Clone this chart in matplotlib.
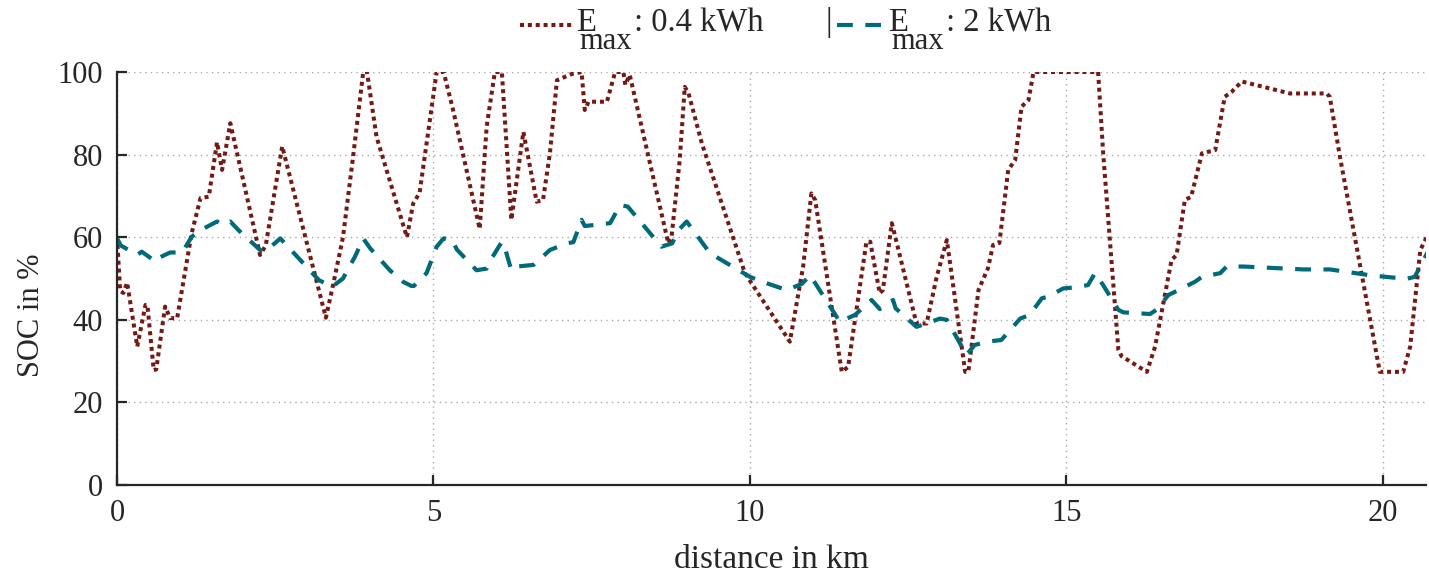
import matplotlib
matplotlib.use("Agg")
import matplotlib.pyplot as plt
from matplotlib.lines import Line2D

plt.rcParams["font.family"] = ["Liberation Serif", "DejaVu Serif"]

# State of charge along the route, small storage (0.4 kWh)
dist_small = [0.00, 0.05, 0.10, 0.16, 0.32, 0.45, 0.48, 0.58, 0.62, 0.76, 0.84, 0.95,
              1.18, 1.32, 1.45, 1.58, 1.66, 1.79, 2.26, 2.35, 2.61, 3.30, 3.42, 3.57,
              3.73, 3.89, 3.95, 4.10, 4.58, 4.68, 4.78, 5.05, 5.16, 5.31, 5.73, 5.84,
              5.97, 6.08, 6.23, 6.42, 6.63, 6.73, 6.84, 6.95, 7.18, 7.34, 7.39, 7.45,
              7.74, 7.87, 8.00, 8.03, 8.10, 8.15, 8.71, 8.76, 8.89, 8.97, 9.03, 9.24,
              9.92, 10.63, 10.84, 10.97, 11.03, 11.45, 11.55, 11.84, 11.90, 12.05, 12.10,
              12.24, 12.26, 12.63, 12.79, 12.95, 13.11, 13.40, 13.45, 13.61, 13.76, 13.84,
              13.94, 14.08, 14.19, 14.29, 14.40, 14.48, 15.50, 15.58, 15.82, 15.87, 16.27,
              16.40, 16.66, 16.74, 16.87, 16.97, 17.14, 17.35, 17.50, 17.61, 17.77, 18.53,
              19.11, 19.16, 19.32, 19.95, 20.32, 20.43, 20.59, 20.69]
soc_small = [60.0, 47.0, 46.5, 49.0, 33.5, 43.6, 43.6, 27.8, 28.0, 43.2, 40.4, 40.4,
             61.0, 69.5, 69.8, 83.0, 76.3, 87.6, 55.7, 58.0, 82.0, 40.5, 48.9, 60.0,
             79.5, 100.0, 100.0, 84.3, 60.0, 68.2, 70.7, 100.0, 100.0, 90.8, 62.0, 86.8,
             100.0, 100.0, 64.2, 85.5, 68.6, 69.0, 80.4, 98.0, 99.5, 100.0, 90.8, 92.8,
             92.8, 100.0, 100.0, 96.9, 99.3, 96.0, 58.5, 60.0, 78.7, 96.4, 94.8, 82.7,
             51.3, 34.7, 52.9, 70.6, 69.0, 27.4, 28.6, 58.9, 58.9, 46.4, 47.2,
             63.4, 62.3, 39.1, 39.1, 50.4, 59.3, 27.4, 27.4, 47.2, 52.5, 58.1,
             58.6, 76.3, 78.7, 91.6, 93.2, 100.0, 100.0, 80.3, 32.7, 31.2, 27.4,
             33.5, 54.5, 55.7, 69.0, 69.8, 80.3, 81.1, 94.0, 95.2, 97.7, 94.8,
             94.8, 94.0, 79.5, 27.4, 27.4, 33.5, 56.9, 60.0]

# State of charge along the route, large storage (2 kWh)
dist_large = [0.00, 0.06, 0.32, 0.39, 0.61, 0.66, 0.84, 1.03, 1.18, 1.32, 1.58, 1.66,
              1.79, 1.92, 2.26, 2.34, 2.58, 3.19, 3.40, 3.57, 3.76, 3.89, 4.00, 4.31,
              4.52, 4.65, 4.69, 4.89, 5.05, 5.16, 5.29, 5.37, 5.68, 5.84, 5.92, 6.08,
              6.13, 6.23, 6.32, 6.58, 6.84, 7.10, 7.21, 7.34, 7.39, 7.79, 7.95, 8.07,
              8.60, 8.77, 8.87, 9.00, 9.37, 10.00, 10.16, 10.58, 10.82, 10.95, 11.42,
              11.66, 11.92, 12.05, 12.26, 12.30, 12.63, 12.79, 13.00, 13.11, 13.42, 13.55,
              13.74, 13.97, 14.27, 14.42, 14.61, 14.71, 14.95, 15.10, 15.34, 15.45, 15.58,
              15.69, 15.82, 15.90, 16.32, 16.42, 16.61, 16.77, 17.03, 17.14, 17.43, 17.53,
              17.79, 18.74, 19.16, 19.79, 20.37, 20.50, 20.59, 20.71]
soc_large = [59.7, 58.0, 55.7, 56.5, 54.1, 55.0, 56.3, 56.3, 60.1, 61.7, 63.8, 63.0,
             63.8, 61.7, 56.9, 56.5, 59.7, 49.6, 48.0, 50.0, 55.3, 59.7, 57.3, 52.0,
             49.2, 48.2, 48.2, 51.3, 57.7, 59.7, 59.4, 57.0, 52.0, 52.4, 54.9, 58.9,
             57.3, 52.0, 52.9, 53.3, 56.9, 58.5, 58.8, 64.2, 62.7, 63.4, 67.8, 67.4,
             57.7, 58.5, 61.7, 63.8, 56.1, 50.4, 49.4, 47.2, 48.7, 50.8, 39.5,
             41.2, 44.8, 42.6, 44.8, 42.8, 38.3, 39.1, 40.3, 40.0, 31.5, 33.9,
             34.7, 35.1, 40.3, 41.2, 45.2, 45.6, 47.6, 47.8, 48.4, 51.3, 48.4,
             45.6, 42.4, 41.8, 41.4, 42.4, 46.0, 47.2, 49.2, 50.4, 51.3, 52.9,
             52.9, 52.2, 52.2, 50.8, 49.9, 50.4, 52.9, 56.5]

x_ticks = [0, 5, 10, 15, 20]
y_ticks = [0, 20, 40, 60, 80, 100]

legend_values = [": 0.4 kWh", ": 2 kWh"]

RED = "#731a14"
TEAL = "#006a7b"
INK = "#262626"
FS = 22
LFS = 23.5
SUB_FS = 22

W, H = 1429, 573
fig = plt.figure(figsize=(W / 100, H / 100), dpi=100)
ax = fig.add_axes([117 / W, 1 - 485 / H, (1426 - 117) / W, (485 - 72) / H])

red_style = dict(color=RED, lw=2.9, linestyle=(0, (1.0, 0.95)), dash_capstyle="butt")
teal_style = dict(color=TEAL, lw=3.0, linestyle=(0, (3.8, 3.0)), dash_capstyle="butt")

l1, = ax.plot(dist_small, soc_small, **red_style)
l2, = ax.plot(dist_large, soc_large, **teal_style)

ax.set_xlim(0, 20.68)
ax.set_ylim(0, 100)
ax.set_xticks(x_ticks)
ax.set_yticks(y_ticks)
ax.grid(True, color="#a8a8a8", linestyle=(0, (1, 3)), linewidth=1.0)
ax.set_axisbelow(True)

for side in ("top", "right"):
    ax.spines[side].set_visible(False)
for side in ("left", "bottom"):
    ax.spines[side].set_color(INK)
    ax.spines[side].set_linewidth(1.6)

ax.tick_params(axis="both", direction="in", length=7, width=1.6,
               colors=INK, labelsize=FS, labelcolor=INK)
ax.tick_params(axis="x", pad=10)
ax.tick_params(axis="y", pad=10)

ax.set_xlabel("distance in km", fontsize=24, color=INK, labelpad=12)
ax.set_ylabel("SOC in %", fontsize=FS, color=INK)
ax.yaxis.set_label_coords(-0.054, 0.41)


# Legend row above the axes, built from pixel positions
def fx(px):
    return px / W


def fy(py):
    return 1 - py / H


renderer = fig.canvas.get_renderer()


def legend_entry(style, x_line0, x_line1, x_text, value):
    fig.add_artist(Line2D([fx(x_line0), fx(x_line1)], [fy(25), fy(25)],
                          transform=fig.transFigure, **style))
    fig.text(fx(x_text), fy(31), "E", fontsize=LFS, color=INK, va="baseline")
    sub = fig.text(fx(x_text + 2), fy(49), "max", fontsize=SUB_FS, color=INK, va="baseline")
    bb = sub.get_window_extent(renderer)
    rest = fig.text(bb.x1 / W + 2 / W, fy(31), value, fontsize=LFS, color=INK, va="baseline")
    return rest.get_window_extent(renderer).x1


legend_entry(red_style, 520, 575, 577, legend_values[0])
fig.text(fx(825), fy(31), "|", fontsize=LFS, color=INK, va="baseline")
legend_entry(teal_style, 837, 881, 889, legend_values[1])

fig.savefig("out.png", dpi=100)
